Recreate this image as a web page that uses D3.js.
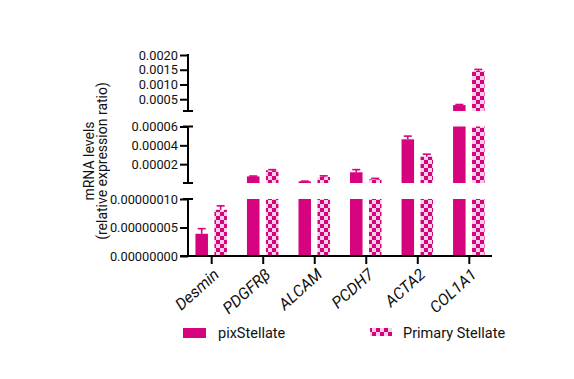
<!DOCTYPE html>
<html><head><meta charset="utf-8">
<script src="https://cdn.jsdelivr.net/npm/d3@7"></script>
<style>body{margin:0;background:#fff}svg{display:block;font-family:Roboto,"Liberation Sans",sans-serif}</style>
</head><body><svg id="c" width="574" height="379"></svg>
<script>
const categories = ["Desmin","PDGFRβ","ALCAM","PCDH7","ACTA2","COL1A1"];
const seriesNames = ["pixStellate","Primary Stellate"];
const pixValues = [3.9e-8, 7.0e-6, 1.7e-6, 1.14e-5, 4.64e-5, 3.0e-4];
const pixErrors = [0.9e-8, 0.4e-6, 0.3e-6, 2.8e-6, 3.4e-6, 0.2e-4];
const primValues = [8.1e-8, 1.35e-5, 6.4e-6, 3.9e-6, 2.79e-5, 1.46e-3];
const primErrors = [0.7e-8, 0.7e-6, 1.2e-6, 1.0e-6, 2.7e-6, 0.05e-3];
const bottomTicks = [0, 5e-8, 1e-7];
const middleTicks = [2e-5, 4e-5, 6e-5];
const topTicks = [0.0005, 0.0010, 0.0015, 0.0020];

const MAG = "#d6037f", LIGHT = "#f9cfe6";
const svg = d3.select("#c");
const defs = svg.append("defs");
const pat = defs.append("pattern").attr("id","chk").attr("patternUnits","userSpaceOnUse")
  .attr("width",8).attr("height",8).attr("x",0).attr("y",0);
pat.append("rect").attr("width",8).attr("height",8).attr("fill",LIGHT);
pat.append("rect").attr("width",4).attr("height",4).attr("fill",MAG);
pat.append("rect").attr("x",4).attr("y",4).attr("width",4).attr("height",4).attr("fill",MAG);

const xAxisX0 = 188, xAxisX1 = 492;
const x = d3.scalePoint().domain(categories).range([xAxisX0, xAxisX1]).padding(0.45);
const xs = d3.scaleBand().domain(seriesNames).range([-15.75, 15.75]).paddingInner(0.34);

const segments = [
  {domain:[0, 1e-7], range:[256, 199], ticks:bottomTicks, fmt:d3.format(".8f"), minShow:0},
  {domain:[0, 6e-5], range:[183, 126.5], ticks:middleTicks, fmt:d3.format(".5f"), minShow:1e-7},
  {domain:[0.0001, 0.002], range:[111, 55], ticks:topTicks, fmt:d3.format(".4f"), minShow:0.0001}
];

const data = [
  {name:seriesNames[0], values:pixValues, errors:pixErrors, fill:MAG},
  {name:seriesNames[1], values:primValues, errors:primErrors, fill:"url(#chk)"}
];

segments.forEach((seg, si) => {
  const y = d3.scaleLinear().domain(seg.domain).range(seg.range);
  data.forEach(s => {
    s.values.forEach((v, i) => {
      if (v <= seg.minShow) return;
      const vv = Math.min(v, seg.domain[1]);
      const bx = x(categories[i]) + xs(s.name);
      svg.append("rect").attr("x", bx).attr("width", xs.bandwidth())
        .attr("y", y(vv)).attr("height", y(seg.domain[0]) - y(vv))
        .attr("fill", s.fill);
      if (v <= seg.domain[1]) {
        const e = v + s.errors[i];
        const cx = bx + xs.bandwidth()/2;
        const g = svg.append("g").attr("stroke", MAG).attr("stroke-width", 1.6);
        g.append("line").attr("x1",cx).attr("x2",cx).attr("y1",y(v)).attr("y2",y(e));
        g.append("line").attr("x1",cx-4).attr("x2",cx+4).attr("y1",y(e)).attr("y2",y(e));
      }
    });
  });
  const ax = svg.append("g").attr("transform", `translate(${xAxisX0},0)`)
    .call(d3.axisLeft(y).tickValues(seg.ticks).tickFormat(seg.fmt).tickSize(8).tickSizeOuter(0).tickPadding(2));
  ax.select(".domain").remove();
  ax.selectAll(".tick line").attr("stroke","#000").attr("stroke-width",2);
  ax.selectAll(".tick text").attr("font-size",12.8).attr("fill","#111")
    .attr("font-family","Roboto,'Liberation Sans',sans-serif");
  svg.append("line").attr("x1",xAxisX0).attr("x2",xAxisX0)
    .attr("y1", seg.range[0]).attr("y2", seg.range[1] - (si===2?1:0))
    .attr("stroke","#000").attr("stroke-width",2);
  if (si > 0) svg.append("line").attr("x1",xAxisX0-5).attr("x2",xAxisX0+5)
    .attr("y1",seg.range[0]).attr("y2",seg.range[0]).attr("stroke","#000").attr("stroke-width",2);
  if (si < 2) svg.append("line").attr("x1",xAxisX0-5).attr("x2",xAxisX0+5)
    .attr("y1",seg.range[1]).attr("y2",seg.range[1]).attr("stroke","#000").attr("stroke-width",2);
});

const xa = svg.append("g").attr("transform","translate(0,256)")
  .call(d3.axisBottom(x).tickSize(8).tickSizeOuter(0).tickFormat(""));
xa.select(".domain").attr("stroke","#000").attr("stroke-width",2)
  .attr("d", `M${xAxisX0-8},0H${xAxisX1}`);
xa.selectAll(".tick line").attr("stroke","#000").attr("stroke-width",2);
categories.forEach(c => {
  svg.append("text").attr("transform", `translate(${x(c)+9},${276}) rotate(-42)`)
    .attr("text-anchor","end").attr("font-size",16).attr("font-style","italic")
    .attr("fill","#111").text(c);
});

const yl = svg.append("text").attr("transform","translate(94,161) rotate(-90)")
  .attr("text-anchor","middle").attr("font-size",14).attr("fill","#111");
yl.append("tspan").attr("x",0).attr("dy",0).text("mRNA levels");
yl.append("tspan").attr("x",0).attr("dy",12.5).text("(relative expression ratio)");

svg.append("rect").attr("x",183).attr("y",328).attr("width",23).attr("height",10).attr("fill",MAG);
svg.append("text").attr("x",218).attr("y",338).attr("font-size",14.5).attr("fill","#111").text(seriesNames[0]);
svg.append("rect").attr("x",370).attr("y",328).attr("width",22).attr("height",8).attr("fill","url(#chk)");
svg.append("text").attr("x",403).attr("y",338).attr("font-size",14.5).attr("fill","#111").text(seriesNames[1]);
</script></body></html>
